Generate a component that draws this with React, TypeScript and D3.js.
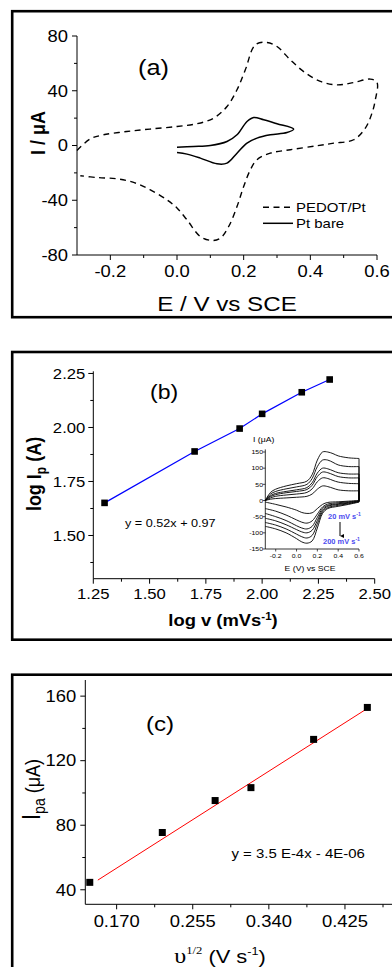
import React from "react";
import * as d3 from "d3";

const SANS = "'Liberation Sans', Arial, sans-serif";
const SERIF = "'Liberation Serif', 'Times New Roman', serif";
const SX = 1.15;

// ---------- Panel (a) data ----------
const pedotE = [-0.3, -0.261, -0.221, -0.151, -0.081, 0.0, 0.06, 0.11, 0.15, 0.18, 0.205, 0.235, 0.27, 0.3, 0.34, 0.38, 0.43, 0.48, 0.53, 0.58, 0.6,
  0.595, 0.585, 0.565, 0.53, 0.47, 0.42, 0.34, 0.28, 0.24, 0.22, 0.2, 0.18, 0.155, 0.13, 0.105, 0.07, 0.03, 0.0, -0.03, -0.08, -0.13, -0.18, -0.24, -0.29];
const pedotI = [-3.6, 4.7, 7.8, 10.2, 12, 13.9, 15.9, 20, 28.5, 40.7, 55.3, 73.6, 75.3, 72.3, 62.6, 54, 46.8, 44.3, 46, 48.5, 46,
  33.4, 23.7, 12.7, 4.2, 1.7, -0.2, -3.1, -5.6, -10.4, -17.8, -30, -44.6, -59.2, -67.7, -69.4, -66.5, -54.3, -45.7, -39.7, -32.4, -27, -24.3, -23.4, -22.1];
const ptE = [0.0, 0.05, 0.1, 0.15, 0.18, 0.21, 0.23, 0.26, 0.3, 0.35, 0.33, 0.28, 0.24, 0.21, 0.18, 0.15, 0.12, 0.07, 0.03, 0.0];
const ptI = [-1.2, -0.7, 0, 2.9, 7.8, 17.5, 20.5, 18.8, 15.9, 12, 9.5, 7.8, 5.4, 1.8, -5.6, -12.9, -13.4, -9.2, -6.3, -5.1];
const aXTicks = [-0.2, 0, 0.2, 0.4, 0.6];
const aXMinor = [-0.1, 0.1, 0.3, 0.5];
const aYTicks = [80, 40, 0, -40, -80];
const aYMinor = [60, 20, -20, -60];
const legendA = ["PEDOT/Pt", "Pt bare"];

// ---------- Panel (b) data ----------
const logV = [1.3, 1.7, 1.9, 2.0, 2.176, 2.3];
const logIp = [1.651, 1.889, 1.995, 2.063, 2.163, 2.222];
const bXTicks = [1.25, 1.5, 1.75, 2.0, 2.25, 2.5];
const bXMinor = [1.375, 1.625, 1.875, 2.125, 2.375];
const bYTicks = [1.5, 1.75, 2.0, 2.25];
const bYMinor = [1.375, 1.625, 1.875, 2.125];

// inset CVs (20 ... 200 mV/s)
const cvFwdE = [-0.3, -0.25, -0.2, -0.1, 0.0, 0.1, 0.15, 0.2, 0.25, 0.3, 0.35, 0.4, 0.5, 0.6];
const cvRevE = [0.6, 0.5, 0.4, 0.3, 0.25, 0.2, 0.15, 0.1, 0.05, 0.0, -0.1, -0.2, -0.3];
const cvFwd200 = [0, 25, 35, 45, 52, 60, 80, 125, 150, 150, 145, 138, 132, 130];
const cvFwd150 = [0, 20, 28, 36, 42, 50, 68, 105, 125, 125, 118, 110, 105, 105];
const cvFwd100 = [0, 15, 22, 28, 33, 40, 55, 85, 100, 98, 92, 86, 82, 82];
const cvFwd80 = [0, 12, 18, 24, 28, 34, 47, 74, 88, 86, 80, 74, 70, 70];
const cvFwd50 = [0, 8, 13, 17, 20, 25, 36, 58, 70, 68, 62, 57, 53, 52];
const cvFwd20 = [0, 4, 6, 8, 10, 13, 20, 35, 45, 43, 38, 33, 30, 30];
const cvRev200 = [-5, -12, -18, -25, -40, -85, -125, -132, -128, -118, -100, -88, -80];
const cvRev150 = [-4, -10, -15, -22, -35, -72, -108, -116, -112, -104, -88, -76, -68];
const cvRev100 = [-3, -8, -12, -18, -30, -62, -92, -100, -97, -90, -75, -63, -55];
const cvRev80 = [-2, -6, -10, -15, -25, -52, -80, -88, -85, -78, -62, -50, -40];
const cvRev50 = [-1, -4, -7, -11, -20, -42, -63, -70, -67, -60, -45, -33, -25];
const cvRev20 = [0, -2, -4, -6, -12, -25, -38, -40, -37, -30, -20, -12, -5];
const cvFwdAll = [cvFwd20, cvFwd50, cvFwd80, cvFwd100, cvFwd150, cvFwd200];
const cvRevAll = [cvRev20, cvRev50, cvRev80, cvRev100, cvRev150, cvRev200];
const insetXTicks = [-0.2, 0, 0.2, 0.4, 0.6];
const insetYTicks = [-150, -100, -50, 0, 50, 100, 150];

// ---------- Panel (c) data ----------
const sqrtV = [0.14, 0.221, 0.28, 0.32, 0.39, 0.45];
const ipa = [44.6, 75.5, 95.3, 103.3, 133.2, 153.0];
const fitX = [0.149, 0.449];
const fitY = [46, 152];
const cXTicks = [0.17, 0.255, 0.34, 0.425];
const cXMinor = [0.2125, 0.2975, 0.3825, 0.4675];
const cYTicks = [40, 80, 120, 160];
const cYMinor = [60, 100, 140];

type TP = {
  x: number; y: number; size: number; anchor?: string; weight?: any; fill?: string;
  rotate?: boolean; family?: string; children?: any;
};
function T({ x, y, size, anchor = "start", weight = "normal", fill = "#000", rotate = false, family = SANS, children }: TP) {
  const tr = `translate(${x},${y}) scale(${SX},1)` + (rotate ? " rotate(-90)" : "");
  return (
    <text transform={tr} fontSize={size} textAnchor={anchor as any} fontWeight={weight} fill={fill} fontFamily={family}>
      {children}
    </text>
  );
}

const hy = (f: (n: number) => string) => (n: number) => f(n).replace("\u2212", "-");

function Axes({ xs, ys, xTicks, xMinor, yTicks, yMinor, xFmt, yFmt, size, xLabOff, yLabOff, major = 5, minor = 3, yTop, xRight, sw = 1 }: any) {
  const [x0, x1] = xs.range();
  const [y0, y1] = ys.range();
  const ax = x0;
  const ay = y0;
  const top = yTop !== undefined ? yTop : y1;
  const right = xRight !== undefined ? xRight : x1;
  return (
    <g>
      <line x1={ax} x2={ax} y1={ay} y2={top} stroke="#000" strokeWidth={sw} />
      <line x1={ax} x2={right} y1={ay} y2={ay} stroke="#000" strokeWidth={sw} />
      {xTicks.map((t: number) => (
        <g key={"xt" + t}>
          <line x1={xs(t)} x2={xs(t)} y1={ay} y2={ay + major} stroke="#000" strokeWidth={sw} />
          <T x={xs(t)} y={ay + xLabOff} size={size} anchor="middle">{xFmt(t)}</T>
        </g>
      ))}
      {xMinor.map((t: number) => (
        <line key={"xm" + t} x1={xs(t)} x2={xs(t)} y1={ay} y2={ay + minor} stroke="#000" strokeWidth={sw} />
      ))}
      {yTicks.map((t: number) => (
        <g key={"yt" + t}>
          <line x1={ax} x2={ax - major} y1={ys(t)} y2={ys(t)} stroke="#000" strokeWidth={sw} />
          <T x={ax - yLabOff} y={ys(t) + size * 0.36} size={size} anchor="end">{yFmt(t)}</T>
        </g>
      ))}
      {yMinor.map((t: number) => (
        <line key={"ym" + t} x1={ax} x2={ax - minor} y1={ys(t)} y2={ys(t)} stroke="#000" strokeWidth={sw} />
      ))}
    </g>
  );
}

export default function App() {
  // panel a scales
  const xA = d3.scaleLinear().domain([-0.3, 0.6]).range([77, 377]);
  const yA = d3.scaleLinear().domain([-80, 80]).range([255, 36]);
  const lineA = d3.line<[number, number]>().x((d) => xA(d[0])).y((d) => yA(d[1])).curve(d3.curveCatmullRom.alpha(0.5));
  const pedotPts = pedotE.map((e, i) => [e, pedotI[i]] as [number, number]);
  const ptPts = ptE.map((e, i) => [e, ptI[i]] as [number, number]);

  // panel b scales
  const xB = d3.scaleLinear().domain([1.25, 2.5]).range([93.3, 374.7]);
  const yB = d3.scaleLinear().domain([1.3, 2.26]).range([578.7, 371.3]);
  const lineB = d3.line<number>().x((d, i) => xB(logV[i])).y((d) => yB(d));

  // inset scales
  const xI = d3.scaleLinear().domain([-0.3, 0.6]).range([265.3, 359]);
  const yI = d3.scaleLinear().domain([-150, 150]).range([549, 452]);
  const lineI = d3.line<[number, number]>().x((d) => xI(d[0])).y((d) => yI(d[1])).curve(d3.curveCatmullRom.alpha(0.5));

  // panel c scales
  const xC = d3.scaleLinear().domain([0.135, 0.48]).range([85.3, 394.2]);
  const yC = d3.scaleLinear().domain([31, 170]).range([904.3, 680]);

  const f1 = hy(d3.format(".1f"));
  const f2 = hy(d3.format(".2f"));
  const f3 = hy(d3.format(".3f"));
  const f0 = hy(d3.format("d"));

  return (
    <svg width={392} height={967} style={{ position: "absolute", left: 0, top: 0, background: "#fff" }} fontFamily={SANS}>
      <rect x={0} y={0} width={392} height={967} fill="#fff" />
      <defs>
        <marker id="arr" viewBox="0 0 6 6" refX={3} refY={6} markerWidth={4} markerHeight={4} orient="auto-start-reverse" markerUnits="userSpaceOnUse">
          <path d="M0,0 L6,0 L3,6 Z" fill="#000" />
        </marker>
      </defs>

      {/* ---------------- Panel (a) ---------------- */}
      <rect x={12.2} y={11.2} width={420} height={306} fill="none" stroke="#000" strokeWidth={2.6} />
      <Axes xs={xA} ys={yA} xTicks={aXTicks} xMinor={aXMinor} yTicks={aYTicks} yMinor={aYMinor}
        xFmt={f1} yFmt={f0} size={16} xLabOff={21.5} yLabOff={9} />
      <path d={lineA(pedotPts) || ""} fill="none" stroke="#000" strokeWidth={1.4} strokeDasharray="6,4.5" />
      <path d={lineA(ptPts) || ""} fill="none" stroke="#000" strokeWidth={1.5} />
      <T x={138} y={75} size={22}>(a)</T>
      <line x1={263} x2={293} y1={207.3} y2={207.3} stroke="#000" strokeWidth={1.4} strokeDasharray="6,4.5" />
      <T x={296} y={212} size={13}>{legendA[0]}</T>
      <line x1={263} x2={293} y1={223.3} y2={223.3} stroke="#000" strokeWidth={1.5} />
      <T x={296} y={228} size={13}>{legendA[1]}</T>
      <T x={45} y={133} size={18} weight="bold" anchor="middle" rotate>I / μA</T>
      <T x={227} y={310.5} size={21} anchor="middle">E / V vs SCE</T>

      {/* ---------------- Panel (b) ---------------- */}
      <rect x={12.2} y={352} width={420} height={287.7} fill="none" stroke="#000" strokeWidth={2.6} />
      <Axes xs={xB} ys={yB} xTicks={bXTicks} xMinor={bXMinor} yTicks={bYTicks} yMinor={bYMinor}
        xFmt={f2} yFmt={f2} size={14.5} xLabOff={20.5} yLabOff={8} />
      <path d={lineB(logIp) || ""} fill="none" stroke="#0000ff" strokeWidth={1.2} />
      {logIp.map((v, i) => (
        <rect key={"bp" + i} x={xB(logV[i]) - 3.3} y={yB(v) - 3.3} width={6.6} height={6.6} fill="#000" />
      ))}
      <T x={150} y={399} size={20}>(b)</T>
      <T x={125} y={527} size={11}>y = 0.52x + 0.97</T>
      <text transform={`translate(41,474) scale(${SX},1) rotate(-90)`} fontSize={18} fontWeight="bold" textAnchor="middle" fontFamily={SANS}>
        log I<tspan fontSize={12} dy={4}>p</tspan><tspan dy={-4}> (A)</tspan>
      </text>
      <text transform={`translate(223,626) scale(${SX},1)`} fontSize={16} fontWeight="bold" textAnchor="middle" fontFamily={SANS}>
        log v (mVs<tspan fontSize={10} dy={-6}>-1</tspan><tspan dy={6}>)</tspan>
      </text>

      {/* inset */}
      <line x1={xI(-0.3)} x2={xI(-0.3)} y1={yI(-150)} y2={yI(158)} stroke="#000" strokeWidth={0.8} />
      <line x1={xI(-0.3)} x2={xI(0.6)} y1={yI(-150)} y2={yI(-150)} stroke="#000" strokeWidth={0.8} />
      {insetXTicks.map((t) => (
        <g key={"ixt" + t}>
          <line x1={xI(t)} x2={xI(t)} y1={yI(-150)} y2={yI(-150) + 2.5} stroke="#000" strokeWidth={0.7} />
          <T x={xI(t)} y={557.5} size={6} anchor="middle">{f1(t)}</T>
        </g>
      ))}
      {insetYTicks.map((t) => (
        <g key={"iyt" + t}>
          <line x1={xI(-0.3)} x2={xI(-0.3) - 2.5} y1={yI(t)} y2={yI(t)} stroke="#000" strokeWidth={0.7} />
          <T x={263} y={yI(t) + 2.2} size={6} anchor="end">{f0(t)}</T>
        </g>
      ))}
      {cvFwdAll.map((fw, k) => {
        const fPts = cvFwdE.map((e, i) => [e, fw[i]] as [number, number]);
        const rPts = cvRevE.map((e, i) => [e, cvRevAll[k][i]] as [number, number]);
        const d = (lineI(fPts) || "") + (lineI(rPts) || "").replace(/^M/, "L");
        return <path key={"cv" + k} d={d} fill="none" stroke="#000" strokeWidth={0.9} />;
      })}
      <T x={253} y={441.5} size={7.5}>I (μA)</T>
      <T x={310} y={570.5} size={7.5} anchor="middle">E (V) vs SCE</T>
      <text transform={`translate(328,519) scale(${SX},1)`} fontSize={6.5} fontWeight="bold" fill="#4b4bef" fontFamily={SANS}>
        20 mV s<tspan fontSize={4.5} dy={-3}>-1</tspan>
      </text>
      <text transform={`translate(323,543.5) scale(${SX},1)`} fontSize={6.5} fontWeight="bold" fill="#4b4bef" fontFamily={SANS}>
        200 mV s<tspan fontSize={4.5} dy={-3}>-1</tspan>
      </text>
      <line x1={340} x2={340} y1={522} y2={536} stroke="#000" strokeWidth={1} markerEnd="url(#arr)" />

      {/* ---------------- Panel (c) ---------------- */}
      <rect x={12.2} y={674.7} width={420} height={320} fill="none" stroke="#000" strokeWidth={2.6} />
      <Axes xs={xC} ys={yC} xTicks={cXTicks} xMinor={cXMinor} yTicks={cYTicks} yMinor={cYMinor}
        xFmt={f3} yFmt={f0} size={16} xLabOff={22.4} yLabOff={9} />
      <line x1={xC(fitX[0])} x2={xC(fitX[1])} y1={yC(fitY[0])} y2={yC(fitY[1])} stroke="#ff0000" strokeWidth={1} />
      {ipa.map((v, i) => (
        <rect key={"cp" + i} x={xC(sqrtV[i]) - 3.5} y={yC(v) - 3.5} width={7} height={7} fill="#000" />
      ))}
      <T x={146} y={731} size={21}>(c)</T>
      <T x={231.5} y={857.5} size={13}>y = 3.5 E-4x - 4E-06</T>
      <text transform={`translate(40,820) scale(${SX},1) rotate(-90)`} fontSize={18} textAnchor="start" fontFamily={SANS}>
        <tspan fontSize={22}>I</tspan><tspan fontSize={14} dy={4}>pa</tspan><tspan dy={-4}> (μA)</tspan>
      </text>
      <text transform={`translate(220,963) scale(${SX},1)`} fontSize={19} textAnchor="middle" fontFamily={SANS}>
        <tspan fontFamily={SERIF} fontSize={21}>υ</tspan><tspan fontFamily={SERIF} fontSize={11} dy={-9}>1/2</tspan><tspan dy={9}> (V s</tspan><tspan fontSize={11} dy={-8}>-1</tspan><tspan dy={8}>)</tspan>
      </text>
    </svg>
  );
}
